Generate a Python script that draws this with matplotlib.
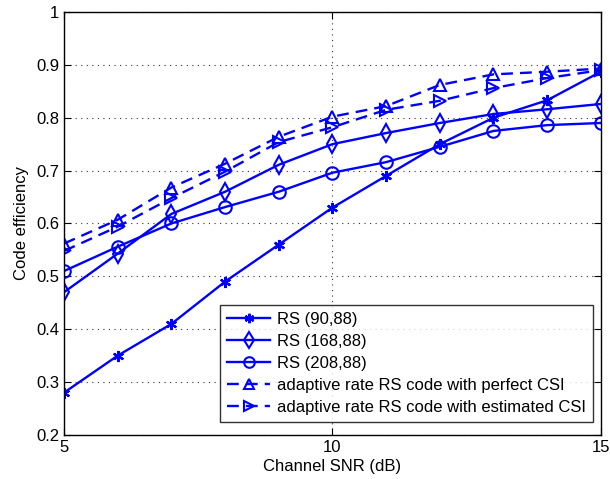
import matplotlib
matplotlib.use("Agg")
import matplotlib.pyplot as plt

snr = [5, 6, 7, 8, 9, 10, 11, 12, 13, 14, 15]
rs_90_88 = [0.28, 0.35, 0.41, 0.49, 0.56, 0.63, 0.69, 0.75, 0.80, 0.833, 0.887]
rs_168_88 = [0.47, 0.543, 0.618, 0.66, 0.711, 0.75, 0.771, 0.79, 0.807, 0.816, 0.826]
rs_208_88 = [0.51, 0.556, 0.60, 0.631, 0.66, 0.696, 0.716, 0.745, 0.775, 0.786, 0.79]
perfect_csi = [0.562, 0.607, 0.668, 0.713, 0.764, 0.802, 0.822, 0.862, 0.882, 0.887, 0.893]
estimated_csi = [0.548, 0.594, 0.648, 0.698, 0.754, 0.782, 0.815, 0.832, 0.856, 0.875, 0.89]

labels = ["RS (90,88)", "RS (168,88)", "RS (208,88)",
          "adaptive rate RS code with perfect CSI",
          "adaptive rate RS code with estimated CSI"]

plt.rcParams['font.family'] = ['Liberation Sans', 'DejaVu Sans']
fig = plt.figure(figsize=(6.10, 4.79), dpi=100)
ax = fig.add_axes([0.105, 0.092, 0.880, 0.883])

blue = '#0000ff'
kw = dict(color=blue, lw=1.7, markersize=9, markerfacecolor='none', markeredgewidth=1.5)
ax.plot(snr, rs_90_88, '-', marker=(6, 2, 0), label=labels[0], color=blue, lw=1.7, markersize=8, markeredgewidth=1.6)
ax.plot(snr, rs_168_88, '-', marker='d', label=labels[1], **kw)
ax.plot(snr, rs_208_88, '-', marker='o', label=labels[2], **kw)
ax.plot(snr, perfect_csi, '--', marker='^', label=labels[3], dashes=(5, 3), **kw)
ax.plot(snr, estimated_csi, '--', marker='>', label=labels[4], dashes=(5, 3), **kw)

ax.set_xlim(5, 15)
ax.set_ylim(0.2, 1.0)
ax.set_xticks([5, 10, 15])
ax.set_yticks([0.2, 0.3, 0.4, 0.5, 0.6, 0.7, 0.8, 0.9, 1.0])
ax.set_yticklabels(['0.2', '0.3', '0.4', '0.5', '0.6', '0.7', '0.8', '0.9', '1'])
ax.grid(True, linestyle=(0, (1, 4)), color='#333333', lw=0.8)
ax.tick_params(direction='in', top=True, right=True, labelsize=12, length=5)
for s in ax.spines.values():
    s.set_linewidth(1.0)
ax.set_xlabel('Channel SNR (dB)', fontsize=12, labelpad=3)
ax.set_ylabel('Code efficiency', fontsize=12, labelpad=5)

leg = ax.legend(loc='lower right', bbox_to_anchor=(1.0, 0.012), fontsize=12,
                frameon=True, fancybox=False,
                edgecolor='black', borderpad=0.4, labelspacing=0.42,
                handlelength=2.6, handletextpad=0.4, borderaxespad=0.5,
                markerscale=0.85)
leg.get_frame().set_linewidth(1.0)

fig.savefig('out.png', dpi=100)
